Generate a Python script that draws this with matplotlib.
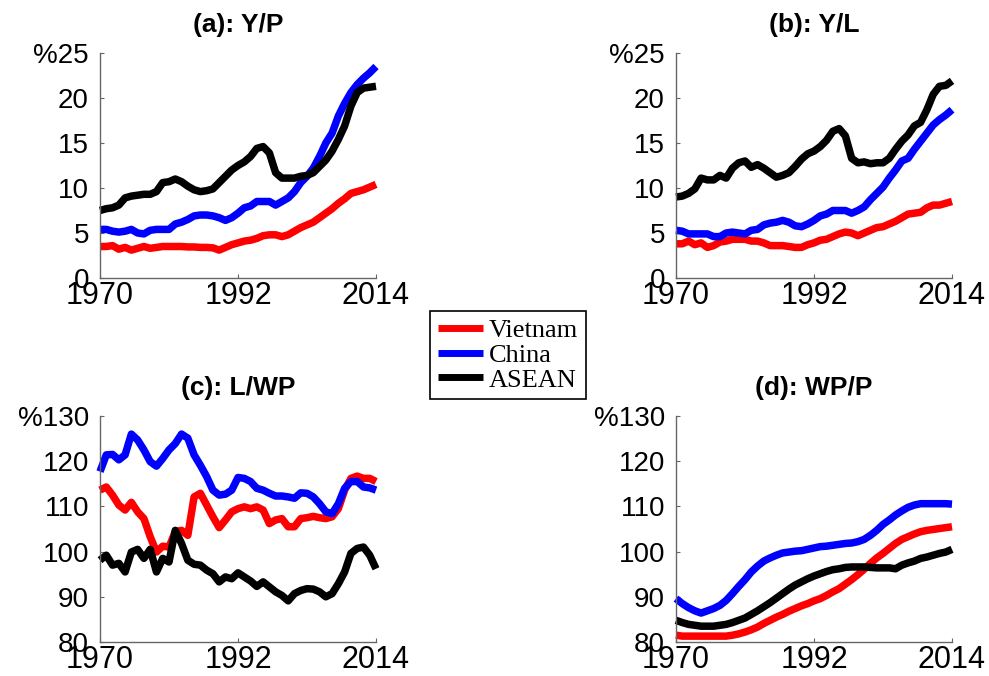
import numpy as np
import matplotlib
matplotlib.use("Agg")
import matplotlib.pyplot as plt
from matplotlib.ticker import FixedLocator, FixedFormatter

years = list(range(1970, 2015))
series_names = ["Vietnam", "China", "ASEAN"]
series_colors = ["#ff0000", "#0000ff", "#000000"]

# (a) Y/P
a_vietnam = [3.5, 3.5, 3.6, 3.2, 3.4, 3.1, 3.3, 3.5, 3.3, 3.4, 3.5, 3.5, 3.5, 3.5, 3.45, 3.45, 3.4, 3.4, 3.35, 3.1,
             3.4, 3.7, 3.9, 4.1, 4.2, 4.4, 4.7, 4.8, 4.8, 4.6, 4.8, 5.2, 5.6, 5.9, 6.2, 6.7, 7.2, 7.7, 8.3, 8.8,
             9.4, 9.6, 9.8, 10.1, 10.4]
a_china = [5.4, 5.4, 5.2, 5.1, 5.2, 5.4, 5.0, 4.9, 5.3, 5.4, 5.4, 5.4, 6.0, 6.2, 6.5, 6.9, 7.0, 7.0, 6.9, 6.7,
           6.4, 6.7, 7.2, 7.8, 8.0, 8.5, 8.5, 8.5, 8.1, 8.5, 8.9, 9.6, 10.6, 11.3, 12.2, 13.5, 15.0, 16.1, 18.0, 19.4,
           20.6, 21.5, 22.2, 22.8, 23.5]
a_asean = [7.5, 7.7, 7.8, 8.1, 8.9, 9.1, 9.2, 9.3, 9.3, 9.6, 10.6, 10.7, 11.0, 10.7, 10.2, 9.8, 9.6, 9.7, 9.9, 10.6,
           11.3, 12.0, 12.5, 12.9, 13.5, 14.4, 14.6, 13.9, 11.7, 11.1, 11.1, 11.1, 11.3, 11.4, 11.7, 12.4, 13.1, 14.1, 15.4, 16.9,
           19.1, 20.6, 21.1, 21.2, 21.3]

# (b) Y/L
b_vietnam = [3.8, 3.8, 4.1, 3.7, 3.9, 3.4, 3.6, 4.0, 4.1, 4.3, 4.3, 4.3, 4.1, 4.1, 3.9, 3.6, 3.6, 3.6, 3.5, 3.4,
             3.4, 3.7, 3.9, 4.2, 4.3, 4.6, 4.9, 5.1, 5.0, 4.7, 5.0, 5.3, 5.6, 5.7, 6.0, 6.3, 6.7, 7.1, 7.2, 7.3,
             7.8, 8.1, 8.1, 8.3, 8.5]
b_china = [5.3, 5.2, 4.9, 4.9, 4.9, 4.9, 4.6, 4.6, 5.0, 5.1, 5.0, 4.9, 5.3, 5.4, 5.9, 6.1, 6.2, 6.4, 6.2, 5.8,
           5.7, 6.0, 6.4, 6.9, 7.1, 7.5, 7.5, 7.5, 7.2, 7.5, 7.9, 8.7, 9.4, 10.1, 11.1, 12.0, 13.0, 13.3, 14.3, 15.2,
           16.1, 17.0, 17.6, 18.1, 18.7]
b_asean = [9.0, 9.1, 9.4, 9.9, 11.1, 10.9, 10.9, 11.4, 11.1, 12.2, 12.8, 13.0, 12.3, 12.6, 12.2, 11.7, 11.2, 11.4, 11.7, 12.4,
           13.2, 13.8, 14.1, 14.6, 15.3, 16.3, 16.6, 15.8, 13.3, 12.8, 12.9, 12.7, 12.8, 12.8, 13.3, 14.3, 15.2, 15.9, 16.9, 17.3,
           18.7, 20.4, 21.3, 21.4, 21.9]

# (c) L/WP
c_vietnam = [113.6, 114.3, 112.5, 110.3, 109.2, 110.9, 108.8, 107.3, 103.3, 99.9, 101.2, 101.0, 104.4, 104.7, 103.6,
             112.1, 112.9, 110.3, 107.7, 105.3, 107.0, 108.8, 109.5, 109.9, 109.5, 109.9, 109.2, 106.2, 107.0, 107.3,
             105.5, 105.5, 107.3, 107.5, 107.8, 107.5, 107.3, 107.7, 109.5, 113.6, 116.2, 116.7, 116.2, 116.2, 115.5]
c_china = [117.7, 121.4, 121.5, 120.3, 121.4, 126.0, 124.7, 122.5, 119.9, 118.9, 120.6, 122.5, 123.9, 126.0, 125.1,
           121.4, 119.1, 116.6, 113.6, 112.5, 112.7, 113.6, 116.4, 116.2, 115.5, 114.0, 113.6, 112.9, 112.3, 112.3,
           112.1, 111.8, 113.0, 112.9, 112.1, 110.6, 108.8, 108.4, 110.6, 114.0, 115.5, 115.5, 114.3, 114.1, 113.6]
c_asean = [98.1, 99.2, 97.0, 97.4, 95.5, 99.9, 100.5, 98.5, 100.5, 95.5, 98.5, 97.7, 104.7, 101.8, 98.1,
           97.2, 97.0, 95.9, 95.1, 93.3, 94.4, 94.0, 95.3, 94.4, 93.5, 92.3, 93.3, 92.2, 91.1, 90.3,
           89.1, 90.7, 91.4, 91.8, 91.7, 91.1, 90.0, 90.7, 92.9, 95.5, 99.6, 100.7, 101.0, 99.2, 96.2]

# (d) WP/P
d_vietnam = [81.5, 81.3, 81.3, 81.3, 81.3, 81.3, 81.3, 81.3, 81.3, 81.5, 81.8, 82.2, 82.7, 83.3, 84.1,
             84.8, 85.5, 86.1, 86.8, 87.4, 88.0, 88.5, 89.1, 89.6, 90.3, 91.1, 91.8, 92.8, 93.8, 94.9,
             96.1, 97.4, 98.6, 99.6, 100.7, 101.8, 102.7, 103.3, 103.9, 104.4, 104.7, 104.9, 105.1, 105.3, 105.5]
d_china = [89.6, 88.5, 87.6, 86.9, 86.4, 86.9, 87.4, 88.1, 89.2, 90.7, 92.3, 93.8, 95.5, 96.8, 97.9,
           98.6, 99.2, 99.7, 99.9, 100.1, 100.2, 100.5, 100.8, 101.1, 101.2, 101.4, 101.6, 101.8, 101.9, 102.2,
           102.7, 103.6, 104.7, 106.0, 107.0, 108.1, 109.0, 109.8, 110.3, 110.6, 110.6, 110.6, 110.6, 110.6, 110.5]
d_asean = [84.8, 84.3, 83.9, 83.7, 83.5, 83.5, 83.5, 83.7, 83.9, 84.3, 84.8, 85.3, 86.1, 86.9, 87.8,
           88.7, 89.7, 90.7, 91.7, 92.6, 93.3, 94.0, 94.6, 95.1, 95.6, 96.0, 96.2, 96.5, 96.6, 96.6,
           96.6, 96.5, 96.4, 96.4, 96.4, 96.2, 97.0, 97.5, 97.9, 98.5, 98.8, 99.2, 99.6, 99.9, 100.5]

panel_titles = ["(a): Y/P", "(b): Y/L", "(c): L/WP", "(d): WP/P"]
top_ticks = [0, 5, 10, 15, 20, 25]
top_ticklabels = ["0", "5", "10", "15", "20", "%25"]
bot_ticks = [80, 90, 100, 110, 120, 130]
bot_ticklabels = ["80", "90", "100", "110", "120", "%130"]
x_ticks = [1970, 1992, 2014]

panels = [
    (panel_titles[0], [a_vietnam, a_china, a_asean], top_ticks, top_ticklabels),
    (panel_titles[1], [b_vietnam, b_china, b_asean], top_ticks, top_ticklabels),
    (panel_titles[2], [c_vietnam, c_china, c_asean], bot_ticks, bot_ticklabels),
    (panel_titles[3], [d_vietnam, d_china, d_asean], bot_ticks, bot_ticklabels),
]

W, H = 989, 676
fig = plt.figure(figsize=(W / 100, H / 100), dpi=100)
plt.rcParams['font.family'] = ['Liberation Sans', 'DejaVu Sans']

boxes = [(100, 53, 376, 278), (676, 53, 952, 278), (100, 416, 376, 642), (676, 416, 952, 642)]
lines_for_legend = []
for (title, data, yt, ytl), (x0, y0, x1, y1) in zip(panels, boxes):
    ax = fig.add_axes([x0 / W, 1 - y1 / H, (x1 - x0) / W, (y1 - y0) / H])
    for vals, name, col in zip(data, series_names, series_colors):
        ln, = ax.plot(years, vals, color=col, lw=5.4, label=name, solid_joinstyle='round',
                      solid_capstyle='butt', clip_on=False)
        if len(lines_for_legend) < 3:
            lines_for_legend.append(ln)
    ax.set_xlim(1970, 2014)
    ax.set_ylim(yt[0], yt[-1])
    ax.xaxis.set_major_locator(FixedLocator(x_ticks))
    ax.set_xticklabels([str(v) for v in x_ticks])
    ax.yaxis.set_major_locator(FixedLocator(yt))
    ax.yaxis.set_major_formatter(FixedFormatter(ytl))
    for s in ['top', 'right']:
        ax.spines[s].set_visible(False)
    for s in ['left', 'bottom']:
        ax.spines[s].set_color('#666666')
        ax.spines[s].set_linewidth(1.0)
    ax.tick_params(axis='y', direction='in', length=3, width=0.8, color='#666666',
                   labelsize=20, pad=8)
    ax.tick_params(axis='x', direction='in', length=3, width=0.8, color='#666666',
                   labelsize=22, pad=2)
    ax.set_title(title, fontsize=19, fontweight='bold', pad=15)

leg = fig.legend(lines_for_legend, series_names, loc='center',
                 bbox_to_anchor=(508 / W, 1 - 355 / H),
                 prop={'family': ['Liberation Serif', 'DejaVu Serif'], 'size': 19},
                 frameon=True, fancybox=False, edgecolor='black', framealpha=1,
                 handlelength=1.7, handletextpad=0.2, labelspacing=0.05,
                 borderpad=0.3, borderaxespad=0)
leg.get_frame().set_linewidth(1.2)
for h in leg.get_lines():
    h.set_linewidth(5)

fig.savefig("out.png", dpi=100)
